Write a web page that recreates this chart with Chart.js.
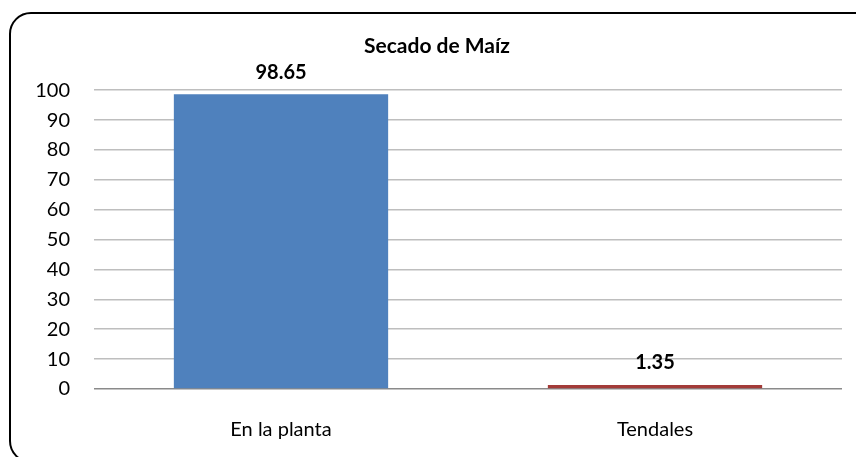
<!DOCTYPE html>
<html>
<head>
<meta charset="utf-8">
<script src="https://cdn.jsdelivr.net/npm/chart.js@4.4.1/dist/chart.umd.min.js"></script>
<style>
  html, body { margin: 0; padding: 0; background: #fff; overflow: hidden; }
  #wrap { position: relative; width: 856px; height: 457px; overflow: hidden; }
  #frame {
    position: absolute; left: 9px; top: 12px; width: 870px; height: 451px;
    border: 2px solid #000; border-radius: 22px; box-sizing: border-box;
  }
  canvas { position: absolute; left: 0; top: 0; }
</style>
</head>
<body>
<div id="wrap">
  <div id="frame"></div>
  <canvas id="chart" width="856" height="457"></canvas>
</div>
<script>
const categories = ["En la planta", "Tendales"];
const values = [98.65, 1.35];
const barColors = ["#4F81BD", "#A33B38"];
const yTicks = [0, 10, 20, 30, 40, 50, 60, 70, 80, 90, 100];

const FONT = "Lato, 'Liberation Sans', sans-serif";

// escribe el valor encima de cada barra
const valueLabels = {
  id: "valueLabels",
  afterDatasetsDraw(chart) {
    const ctx = chart.ctx;
    const meta = chart.getDatasetMeta(0);
    ctx.save();
    ctx.font = "bold 20px " + FONT;
    ctx.fillStyle = "#000";
    ctx.textAlign = "center";
    ctx.textBaseline = "bottom";
    meta.data.forEach((bar, i) => {
      ctx.fillText(values[i].toFixed(2), bar.x, bar.y - 12);
    });
    ctx.restore();
  }
};

new Chart(document.getElementById("chart"), {
  type: "bar",
  data: {
    labels: categories,
    datasets: [{
      data: values,
      backgroundColor: barColors,
      barPercentage: 0.573,
      categoryPercentage: 1
    }]
  },
  options: {
    responsive: false,
    animation: false,
    layout: { padding: { left: 32, right: 14, top: 0, bottom: 12 } },
    plugins: {
      legend: { display: false },
      tooltip: { enabled: false },
      title: {
        display: true,
        text: "Secado de Maíz",
        color: "#000",
        font: { family: FONT, size: 21, weight: "bold" },
        padding: { top: 34, bottom: 31 }
      }
    },
    scales: {
      x: {
        afterFit(axis) { axis.height = 56; },
        grid: { display: false },
        border: { display: false },
        ticks: { color: "#000", font: { family: FONT, size: 20 }, padding: 21 }
      },
      y: {
        min: 0,
        max: 100,
        afterFit(axis) { axis.width = 62; },
        afterBuildTicks(axis) { axis.ticks = yTicks.map(v => ({ value: v })); },
        grid: {
          drawTicks: false,
          lineWidth: 1.5,
          color: c => c.tick && c.tick.value === 0 ? "#8A8A8A" : "#BEBEBE"
        },
        border: { display: false },
        ticks: { color: "#000", font: { family: FONT, size: 20 }, padding: 24 }
      }
    }
  },
  plugins: [valueLabels]
});
</script>
</body>
</html>
